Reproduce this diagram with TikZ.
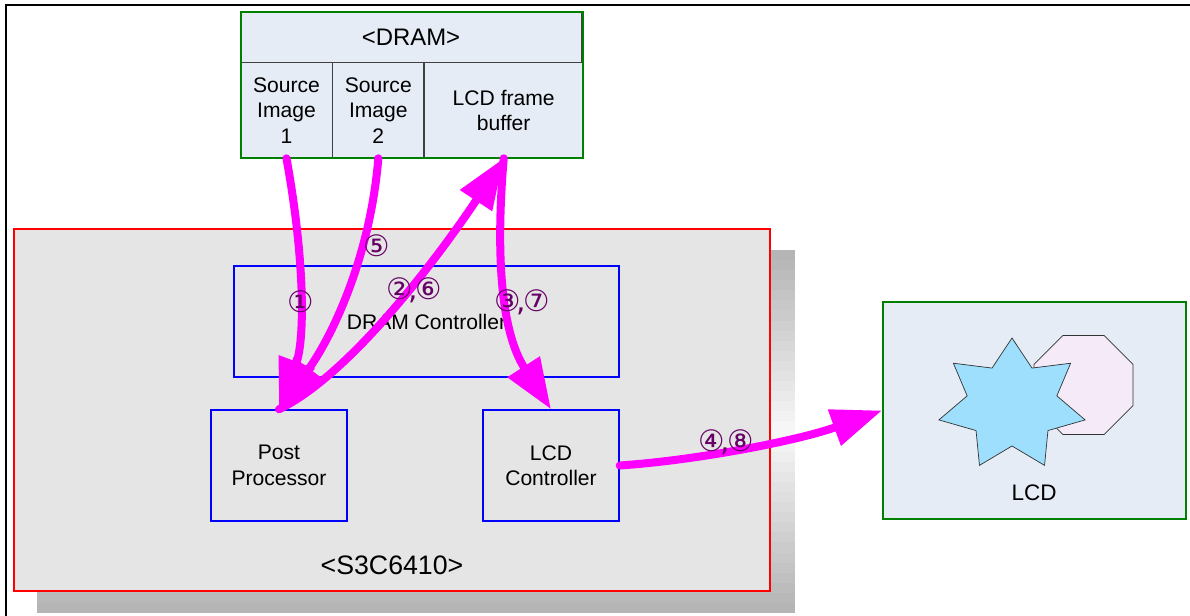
\documentclass[tikz,border=0pt]{standalone}
\usepackage{fontspec}
\setmainfont{Liberation Sans}
\newfontfamily\circfont{DejaVu Sans}
\usetikzlibrary{arrows.meta, positioning, calc}
\definecolor{DramFill}{HTML}{E6ECF6}
\definecolor{FrameGreen}{HTML}{008000}
\definecolor{ChipGray}{HTML}{E5E5E5}
\definecolor{FlowMagenta}{HTML}{FF00FF}
\definecolor{StepPurple}{HTML}{660066}
\definecolor{StarBlue}{HTML}{9DDFFC}
\definecolor{OctPink}{HTML}{F5EAF8}

% tight comma between two step numbers
\newcommand{\stepsep}{\kern-2.5pt,\kern-2pt}

\tikzset{
    cell/.style={draw=black!75, fill=DramFill, line width=0.6pt, inner sep=0pt,
                 minimum height=2.375cm, align=center,
                 font=\fontsize{15}{18}\selectfont},
    block/.style={draw=blue, line width=1pt, inner sep=0pt, align=center,
                  minimum width=3.4cm, minimum height=2.775cm,
                  font=\fontsize{15}{18}\selectfont},
    flow/.style={-{Triangle[length=36pt, width=26pt]}, line width=5.7pt,
                 FlowMagenta, line cap=round},
    stepno/.style={text=StepPurple, inner sep=0pt,
                   font=\circfont\fontsize{21}{21}\selectfont},
}

\begin{document}
\begin{tikzpicture}[x=0.025cm, y=-0.025cm]
    \useasboundingbox (0,0) rectangle (1190,616);
    % page frame
    \draw[line width=1.4pt] (1190,5) -- (6,5) -- (6,616);

    % DRAM
    \node (hdr) [cell, minimum width=8.5cm, minimum height=1.25cm,
                 font=\fontsize{17}{20}\selectfont] at (411,37) {<DRAM>};
    \node (src1) [cell, minimum width=2.275cm, anchor=north west] at (hdr.south west) {Source\\Image\\1};
    \node (src2) [cell, minimum width=2.275cm, right=0pt of src1] {Source\\Image\\2};
    \node (fb) [cell, minimum width=3.95cm, right=0pt of src2] {LCD frame\\buffer};
    \draw[FrameGreen, line width=1.4pt] (hdr.north west) rectangle (fb.south east);

    % SoC shadow, lighter towards the middle
    \foreach \i in {0,...,35} {
        \pgfmathsetmacro{\shd}{3+27*abs(2*(\i+0.5)/36-1)}
        \fill[black!\shd] (37,{250+\i*363/36}) rectangle (795,{250+(\i+1)*363/36+0.4});
    }
    \node (chip) [draw=red, fill=ChipGray, line width=1.8pt,
                  minimum width=18.9cm, minimum height=9.05cm] at (392,410) {};
    \node (chiplbl) at (392,565) {\fontsize{19}{20}\selectfont <S3C6410>};
    \node (dramc) [block, minimum width=9.625cm] at (426.5,321.5) {DRAM Controller};
    \node (pp) [block] at (279,465.5) {Post\\Processor};
    \node (lcdc) [block] at (551,465.5) {LCD\\Controller};

    % LCD panel
    \node (lcd) [draw=FrameGreen, fill=DramFill, line width=1.4pt,
                 minimum width=7.575cm, minimum height=5.425cm] at (1034.5,410.5) {};
    \draw[black!80, fill=OctPink, line width=0.5pt, shift={(1083.5,385)}]
        (22.5:53.6) \foreach \k in {1,...,7} { -- (22.5+\k*45:53.6) } -- cycle;
    \draw[black!80, fill=StarBlue, line width=0.5pt, shift={(1012,405)}]
        (-90:75 and 67)
        \foreach \k [evaluate=\k as \a using -90+\k*360/7] in {1,...,7}
            { -- (\a-180/7:46 and 41) -- (\a:75 and 67) } -- cycle;
    \node (lcdlbl) at (1034,493) {\fontsize{16}{18}\selectfont LCD};

    % Paths
    \draw[flow] (src1.south) .. controls (305,260) and (305,340) .. (pp.north);
    \draw[flow] (src2.south) .. controls (370,260) and (330,340) .. (pp.north);
    \draw[flow] (pp.north) .. controls (360,370) and (460,225) .. (fb.south);
    \draw[flow] (fb.south) .. controls (496,250) and (500,330) .. (lcdc.north);
    \draw[flow] (lcdc.east) .. controls (700,460) and (800,440) .. (lcd.west);

    % step numbers
    \node (s1) [stepno] at (301,302) {①};
    \node (s5) [stepno] at (377,246) {⑤};
    \node (s26) [stepno] at (414,290) {②\stepsep⑥};
    \node (s37) [stepno] at (522,302) {③\stepsep⑦};
    \node (s48) [stepno] at (726,442) {④\stepsep⑧};
\end{tikzpicture}
\end{document}
